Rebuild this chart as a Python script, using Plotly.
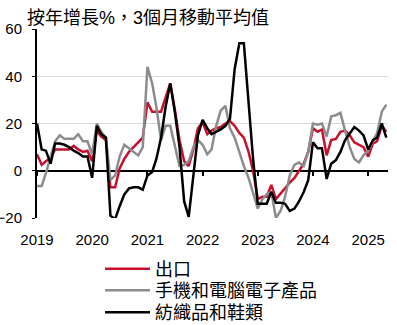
import pandas as pd
import plotly.graph_objects as go

# Monthly observations, Jan 2019 - May 2025 (YoY %, 3-month moving average)
months = pd.date_range("2019-01-01", "2025-05-01", freq="MS")

exports = [
    7, 2.5, 4, 5.5, 9, 9, 9, 9, 10.5, 9, 8, 8.5,
    4, 17, 14.5, 13, -7, -7, 1, 5, 8, 10, 12, 14,
    29, 25, 25, 25, 31, 37, 26, 13, 4, 2, 9, 18,
    20.5, 15.5, 17, 18, 18.5, 20, 21, 19, 16, 14, 8, 0,
    -12, -11, -11, -6, -12, -9.5, -7.5, -5, -3, 0, 3, 8,
    18, 16.5, 17.5, 6.5, 13, 13.5, 16.5, 17, 15, 12, 11, 10,
    6, 11.5, 12.5, 19, 16.5,
]

electronics = [
    -6.5, -6.5, -1, 6, 12.5, 15, 13.5, 13.5, 13.5, 15.5, 12.5, 12.5,
    7, 20, 16.5, 14, -4, -2, 6, 11, 9.5, 8, 6.5, 10,
    44, 37, 27, 13, 19, 19, 10, 2, 2.5, 4, 10, 13,
    11, 7, 9, 19, 25.5, 27.5, 18, 14, 8, 2, -3, -9,
    -16, -12, -10, -9, -20, -17, -11, -2, 2.5, 3.5, 2, 8,
    20, 19.5, 20, 14.5, 23, 23.5, 24.5, 17, 10, 5, 3.5, 6.5,
    8.5, 12.5, 16, 25, 28,
]

textiles = [
    20, 9, 8.5, 3, 11.5, 11.5, 11, 10, 8.5, 7.5, 6, 6,
    -3, 19, 15.5, 14, -19, -20.5, -15, -10, -7.5, -7, -7, -8,
    -2, -0.5, 5, 14, 27, 37, 25, 10, -13, -19.5, -2, 15,
    21.5, 18, 15.5, 16.5, 17.5, 19, 22, 43, 54, 54, 29, 5,
    -14, -14, -14, -9, -13.5, -13.5, -14, -17, -16, -13, -9, -4,
    12, 9.5, 9.5, -3.5, 3, 4.5, 8, 13, 16, 18.5, 17, 15,
    9, 13, 14, 20, 14,
]

series_names = ["出口", "手機和電腦電子產品", "紡織品和鞋類"]
series_colors = ["#C8102E", "#8C8C8C", "#000000"]

year_ticks = pd.date_range("2019-01-01", "2025-01-01", freq="YS")
year_labels = [str(d.year) for d in year_ticks]
y_ticks = [-20, 0, 20, 40, 60]

x_range = ["2019-01-01", "2025-05-12"]
FONT = "Liberation Sans, 'Noto Sans CJK TC', sans-serif"

# plot area in pixels (for placing the stacked legend rows)
W, H = 397, 325
ML, MR, MT, MB = 37, 9, 29, 107
plot_h = H - MT - MB
plot_w = W - ML - MR
legend_rows = [269, 290.5, 312.5]
legend_left = 100

fig = go.Figure()
legend_ids = ["legend", "legend2", "legend3"]
for name, vals, col, lid in zip(series_names, [exports, electronics, textiles],
                                series_colors, legend_ids):
    fig.add_trace(go.Scatter(
        x=months, y=vals, mode="lines", name=name, legend=lid,
        line=dict(color=col, width=2.5),
    ))

# helper trace so the zero-line tick axis is rendered
fig.add_trace(go.Scatter(x=months, y=[None] * len(months), xaxis="x2",
                         showlegend=False, hoverinfo="skip"))

legend_common = dict(xanchor="left", yanchor="middle",
                     font=dict(size=18, family=FONT, color="black"),
                     bgcolor="rgba(0,0,0,0)", itemwidth=45,
                     borderwidth=0)
legends = {}
for lid, row in zip(legend_ids, legend_rows):
    legends[lid] = dict(x=(legend_left - ML) / plot_w,
                        y=(H - MB - row) / plot_h, **legend_common)

fig.update_layout(
    width=W, height=H,
    margin=dict(l=ML, r=MR, t=MT, b=MB, autoexpand=False),
    paper_bgcolor="white", plot_bgcolor="white",
    font=dict(family=FONT, size=15, color="black"),
    title=dict(text="按年增長%，3個月移動平均值", xref="container", x=27 / W,
               xanchor="left", y=1 - 18 / H, yanchor="middle",
               font=dict(size=18, family=FONT, color="black")),
    xaxis=dict(range=x_range, tickvals=year_ticks, ticktext=year_labels,
               showgrid=False, zeroline=False, showline=False, ticks="",
               ticklabelstandoff=11, tickfont=dict(size=15)),
    xaxis2=dict(range=x_range, overlaying="x", anchor="free", position=0.25,
                side="bottom", tickvals=year_ticks, showticklabels=False,
                ticks="outside", ticklen=4, tickcolor="black", tickwidth=1.5,
                showgrid=False, zeroline=False, showline=False),
    yaxis=dict(range=[-20, 60], tickvals=y_ticks, showgrid=True,
               gridcolor="#D9D9D9", gridwidth=1, zeroline=True,
               zerolinecolor="black", zerolinewidth=2, showline=True,
               linecolor="black", linewidth=2, ticks="outside", ticklen=3,
               tickcolor="black", ticklabelstandoff=7, tickfont=dict(size=15)),
    showlegend=True,
    **legends,
)

fig.write_html("out.html")
